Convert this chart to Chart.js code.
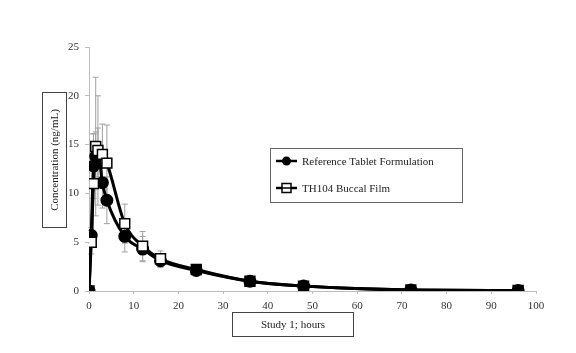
<!DOCTYPE html>
<html>
<head>
<meta charset="utf-8">
<script src="https://cdn.jsdelivr.net/npm/chart.js@4"></script>
<style>
  html, body { margin: 0; padding: 0; background: #fff; }
  #wrap { width: 576px; height: 353px; }
</style>
</head>
<body>
<div id="wrap"><canvas id="pkChart" width="576" height="353"></canvas></div>
<script>
// sampling times (hours)
const hours = [0, 0.5, 1, 1.5, 2, 3, 4, 8, 12, 16, 24, 36, 48, 72, 96];

// mean concentration (ng/mL)
const refMean  = [0, 5.7, 12.8, 13.8, 14.2, 11.1, 9.3, 5.6, 4.3, 3.1, 2.1, 1.0, 0.5, 0.1, 0.05];
const filmMean = [0, 5.0, 11.0, 14.8, 14.4, 14.0, 13.1, 6.9, 4.6, 3.3, 2.2, 1.0, 0.5, 0.1, 0.05];

// standard deviations
const refSd  = [0, 0.8, 3.3, 2.5, 2.5, 2.6, 2.4, 1.6, 1.3, 0.7, 0.5, 0.3, 0.2, 0, 0];
const filmSd = [0, 1.2, 5.1, 7.1, 5.6, 3.1, 3.9, 2.0, 1.5, 0.8, 0.5, 0.3, 0.2, 0, 0];

const xTicks = [0, 10, 20, 30, 40, 50, 60, 70, 80, 90, 100];
const yTicks = [0, 5, 10, 15, 20, 25];

const legendLabels = ['Reference Tablet Formulation', 'TH104 Buccal Film'];
const xTitle = 'Study 1; hours';
const yTitle = 'Concentration (ng/mL)';

const serif = '"Liberation Serif", "DejaVu Serif", serif';

function toPoints(means) {
  return hours.map((h, i) => ({ x: h, y: means[i] }));
}

// gray error bars behind the lines
const errorBars = {
  id: 'errorBars',
  beforeDatasetsDraw(chart) {
    const { ctx, scales: { x, y } } = chart;
    const sets = [[refMean, refSd], [filmMean, filmSd]];
    ctx.save();
    ctx.strokeStyle = '#a0a0a0';
    ctx.lineWidth = 1;
    sets.forEach(([m, sd]) => {
      hours.forEach((h, i) => {
        if (!sd[i]) return;
        const px = x.getPixelForValue(h);
        const top = y.getPixelForValue(m[i] + sd[i]);
        const bot = y.getPixelForValue(Math.max(0, m[i] - sd[i]));
        ctx.beginPath();
        ctx.moveTo(px, top); ctx.lineTo(px, bot);
        ctx.moveTo(px - 3, top); ctx.lineTo(px + 3, top);
        ctx.moveTo(px - 3, bot); ctx.lineTo(px + 3, bot);
        ctx.stroke();
      });
    });
    ctx.restore();
  }
};

// boxed axis titles and boxed legend, like the original figure
const boxes = {
  id: 'boxes',
  afterDraw(chart) {
    const ctx = chart.ctx;
    ctx.save();
    ctx.strokeStyle = '#444';
    ctx.lineWidth = 1;
    ctx.fillStyle = '#222';
    ctx.font = '11px ' + serif;

    // y title
    ctx.strokeRect(42.5, 92.5, 24, 135);
    ctx.save();
    ctx.translate(55, 160);
    ctx.rotate(-Math.PI / 2);
    ctx.textAlign = 'center';
    ctx.textBaseline = 'middle';
    ctx.fillText(yTitle, 0, 0);
    ctx.restore();

    // x title
    ctx.strokeRect(232.5, 312.5, 121, 24);
    ctx.textAlign = 'center';
    ctx.textBaseline = 'middle';
    ctx.fillText(xTitle, 293, 325);

    // legend
    ctx.strokeStyle = '#666';
    ctx.strokeRect(270.5, 148.5, 192, 54);
    ctx.textAlign = 'left';
    const rows = [161, 188];
    rows.forEach((ry, i) => {
      ctx.strokeStyle = '#000';
      ctx.lineWidth = 2.5;
      ctx.beginPath();
      ctx.moveTo(276, ry); ctx.lineTo(297, ry);
      ctx.stroke();
      ctx.lineWidth = 1.5;
      if (i === 0) {
        ctx.fillStyle = '#000';
        ctx.beginPath();
        ctx.arc(286.5, ry, 4.5, 0, Math.PI * 2);
        ctx.fill();
      } else {
        ctx.fillStyle = '#fff';
        ctx.fillRect(282, ry - 4.5, 9, 9);
        ctx.strokeRect(282, ry - 4.5, 9, 9);
        ctx.beginPath();
        ctx.moveTo(282, ry); ctx.lineTo(291, ry);
        ctx.stroke();
      }
      ctx.fillStyle = '#222';
      ctx.fillText(legendLabels[i], 302, ry + 1);
    });
    ctx.restore();
  }
};

const ctx = document.getElementById('pkChart').getContext('2d');
const chart = new Chart(ctx, {
  type: 'line',
  data: {
    datasets: [
      {
        label: legendLabels[0],
        data: toPoints(refMean),
        borderColor: '#000',
        borderWidth: 3,
        pointStyle: 'circle',
        pointRadius: 5,
        pointBackgroundColor: '#000',
        pointBorderColor: '#000',
        cubicInterpolationMode: 'monotone',
        order: 2
      },
      {
        label: legendLabels[1],
        data: toPoints(filmMean),
        borderColor: '#000',
        borderWidth: 3,
        pointStyle: 'rect',
        pointRadius: 7,
        pointBorderWidth: 1.5,
        // late, low points render as solid squares in the original
        pointBackgroundColor: c => (c.raw && (c.raw.x === 0 || c.raw.x >= 24) ? '#000' : '#fff'),
        pointBorderColor: '#000',
        cubicInterpolationMode: 'monotone',
        order: 1
      }
    ]
  },
  options: {
    responsive: false,
    animation: false,
    layout: { padding: { left: 0, top: 47, right: 40, bottom: 0 } },
    plugins: {
      legend: { display: false },
      tooltip: { enabled: false }
    },
    scales: {
      x: {
        type: 'linear',
        min: 0,
        max: 100,
        afterFit: s => { s.height = 62; },
        afterBuildTicks: s => { s.ticks = xTicks.map(v => ({ value: v })); },
        grid: { drawOnChartArea: false, color: '#bdbdbd', tickLength: 3 },
        border: { color: '#bdbdbd' },
        ticks: { color: '#333', font: { family: serif, size: 11 }, padding: 6, maxRotation: 0 }
      },
      y: {
        min: 0,
        max: 25,
        afterFit: s => { s.width = 89; },
        afterBuildTicks: s => { s.ticks = yTicks.map(v => ({ value: v })); },
        grid: { drawOnChartArea: false, color: '#bdbdbd', tickLength: 4 },
        border: { color: '#bdbdbd' },
        ticks: { color: '#333', font: { family: serif, size: 11 }, padding: 6 }
      }
    }
  },
  plugins: [errorBars, boxes]
});
</script>
</body>
</html>
